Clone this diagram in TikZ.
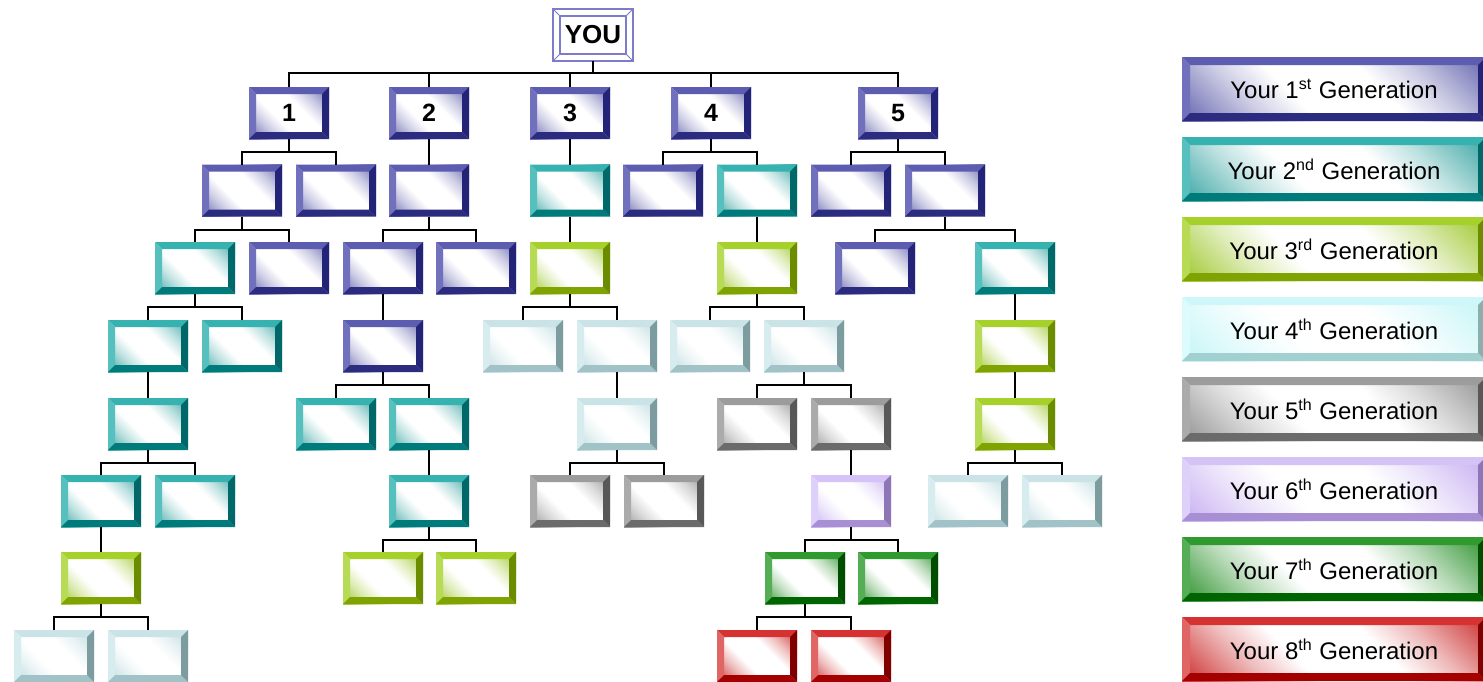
\documentclass[tikz,border=0pt]{standalone}
\usepackage{fontspec}
\setmainfont{Liberation Sans}
\definecolor{gAT}{HTML}{5C5CB0}\definecolor{gAL}{HTML}{7070BC}\definecolor{gAB}{HTML}{2B2B7F}\definecolor{gAR}{HTML}{232378}\definecolor{gAF}{HTML}{5858A8}
\definecolor{gBT}{HTML}{36B2B0}\definecolor{gBL}{HTML}{55C0BE}\definecolor{gBB}{HTML}{007B7B}\definecolor{gBR}{HTML}{006868}\definecolor{gBF}{HTML}{2A9E9C}
\definecolor{gCT}{HTML}{A6D12B}\definecolor{gCL}{HTML}{B8DB55}\definecolor{gCB}{HTML}{7FA300}\definecolor{gCR}{HTML}{6C8C00}\definecolor{gCF}{HTML}{96C21A}
\definecolor{gDT}{HTML}{CDF7F9}\definecolor{gDL}{HTML}{DCFBFC}\definecolor{gDB}{HTML}{A2CFCF}\definecolor{gDR}{HTML}{8EADAD}\definecolor{gDF}{HTML}{BFF4F6}
\definecolor{gdT}{HTML}{C9E3E7}\definecolor{gdL}{HTML}{D6ECEF}\definecolor{gdB}{HTML}{A1C3C7}\definecolor{gdR}{HTML}{7C9CA0}\definecolor{gdF}{HTML}{B5D6DB}
\definecolor{gET}{HTML}{9C9C9C}\definecolor{gEL}{HTML}{ABABAB}\definecolor{gEB}{HTML}{6B6B6B}\definecolor{gER}{HTML}{585858}\definecolor{gEF}{HTML}{8A8A8A}
\definecolor{gFT}{HTML}{D5C3F7}\definecolor{gFL}{HTML}{DDD0F9}\definecolor{gFB}{HTML}{A88ED2}\definecolor{gFR}{HTML}{8C76B6}\definecolor{gFF}{HTML}{C2A8F0}
\definecolor{gGT}{HTML}{2F9B2F}\definecolor{gGL}{HTML}{55AE55}\definecolor{gGB}{HTML}{006400}\definecolor{gGR}{HTML}{004D00}\definecolor{gGF}{HTML}{1E8A1E}
\definecolor{gHT}{HTML}{D73232}\definecolor{gHL}{HTML}{E06565}\definecolor{gHB}{HTML}{A50000}\definecolor{gHR}{HTML}{800000}\definecolor{gHF}{HTML}{C81E1E}
\definecolor{youc}{HTML}{7C7CC8}
\colorlet{bevF}{gAF}
\pgfdeclareverticalshading[bevF]{bevsh}{100bp}{color(0bp)=(bevF); color(18bp)=(bevF!80); color(31bp)=(bevF!30); color(41bp)=(white); color(59bp)=(white); color(69bp)=(bevF!30); color(82bp)=(bevF!80); color(100bp)=(bevF)}
\tikzset{
  bw/.store in=\bw, bw=7,
  gen/.style={/utils/exec={\def\gc{#1}\colorlet{bevF}{#1F}},
    shade, shading=bevsh, shading angle=-45,
    path picture={
      \fill[\gc T] (path picture bounding box.north west) -- (path picture bounding box.north east)
        -- ([shift={(-\bw,\bw)}]path picture bounding box.north east) -- ([shift={(\bw,\bw)}]path picture bounding box.north west) -- cycle;
      \fill[\gc L] (path picture bounding box.north west) -- ([shift={(\bw,\bw)}]path picture bounding box.north west)
        -- ([shift={(\bw,-\bw)}]path picture bounding box.south west) -- (path picture bounding box.south west) -- cycle;
      \fill[\gc B] (path picture bounding box.south west) -- (path picture bounding box.south east)
        -- ([shift={(-\bw,-\bw)}]path picture bounding box.south east) -- ([shift={(\bw,-\bw)}]path picture bounding box.south west) -- cycle;
      \fill[\gc R] (path picture bounding box.north east) -- (path picture bounding box.south east)
        -- ([shift={(-\bw,-\bw)}]path picture bounding box.south east) -- ([shift={(-\bw,\bw)}]path picture bounding box.north east) -- cycle;
    }},
  tbox/.style={minimum width=40pt, minimum height=26pt, inner sep=0pt, outer sep=0pt,
    font=\bfseries\fontsize{12.5}{14}\selectfont},
  lbox/.style={minimum width=152pt, minimum height=32pt, bw=8, inner sep=0pt, outer sep=0pt,
    font=\fontsize{12}{14}\selectfont},
  youbox/.style={minimum width=40pt, minimum height=26pt, inner sep=0pt, outer sep=0pt,
    fill=white, draw=youc, line width=0.6pt, font=\bfseries\fontsize{13}{14}\selectfont,
    path picture={
      \draw[youc, line width=0.6pt] ([shift={(7,7)}]path picture bounding box.north west) rectangle ([shift={(-7,-7)}]path picture bounding box.south east);
      \draw[youc, line width=0.5pt] (path picture bounding box.north west) -- ++(7,7)
        (path picture bounding box.north east) -- ++(-7,7)
        (path picture bounding box.south west) -- ++(7,-7)
        (path picture bounding box.south east) -- ++(-7,-7);
    }},
  link/.style={line width=1pt, black},
}
\begin{document}
\begin{tikzpicture}[x=0.5pt,y=-0.5pt]
\useasboundingbox (0,0) rectangle (1483,681);
\clip (0,0) rectangle (1483,681);
% YOU
\node[youbox] (you) at (593,35) {YOU};
% row 1
\node[tbox,gen=gA] (a1) at (289,113) {1};
\node[tbox,gen=gA] (a2) at (429,113) {2};
\node[tbox,gen=gA] (a3) at (570,113) {3};
\node[tbox,gen=gA] (a4) at (711,113) {4};
\node[tbox,gen=gA] (a5) at (898,113) {5};
% row 2
\node[tbox,gen=gA] (b1) at (242,190.5) {};
\node[tbox,gen=gA] (b2) at (336,190.5) {};
\node[tbox,gen=gA] (b3) at (429,190.5) {};
\node[tbox,gen=gB] (b4) at (570,190.5) {};
\node[tbox,gen=gA] (b5) at (663,190.5) {};
\node[tbox,gen=gB] (b6) at (757,190.5) {};
\node[tbox,gen=gA] (b7) at (851,190.5) {};
\node[tbox,gen=gA] (b8) at (945,190.5) {};
% row 3
\node[tbox,gen=gB] (c1) at (195,268) {};
\node[tbox,gen=gA] (c2) at (289,268) {};
\node[tbox,gen=gA] (c3) at (383,268) {};
\node[tbox,gen=gA] (c4) at (476,268) {};
\node[tbox,gen=gC] (c5) at (570,268) {};
\node[tbox,gen=gC] (c6) at (757,268) {};
\node[tbox,gen=gA] (c7) at (875,268) {};
\node[tbox,gen=gB] (c8) at (1015,268) {};
% row 4
\node[tbox,gen=gB] (d1) at (148,346) {};
\node[tbox,gen=gB] (d2) at (242,346) {};
\node[tbox,gen=gA] (d3) at (383,346) {};
\node[tbox,gen=gd] (d4) at (523,346) {};
\node[tbox,gen=gd] (d5) at (617,346) {};
\node[tbox,gen=gd] (d6) at (710,346) {};
\node[tbox,gen=gd] (d7) at (804,346) {};
\node[tbox,gen=gC] (d8) at (1015,346) {};
% row 5
\node[tbox,gen=gB] (e1) at (148,424) {};
\node[tbox,gen=gB] (e2) at (336,424) {};
\node[tbox,gen=gB] (e3) at (429,424) {};
\node[tbox,gen=gd] (e4) at (617,424) {};
\node[tbox,gen=gE] (e5) at (757,424) {};
\node[tbox,gen=gE] (e6) at (851,424) {};
\node[tbox,gen=gC] (e7) at (1015,424) {};
% row 6
\node[tbox,gen=gB] (f1) at (101,501) {};
\node[tbox,gen=gB] (f2) at (195,501) {};
\node[tbox,gen=gB] (f3) at (429,501) {};
\node[tbox,gen=gE] (f4) at (570,501) {};
\node[tbox,gen=gE] (f5) at (664,501) {};
\node[tbox,gen=gF] (f6) at (851,501) {};
\node[tbox,gen=gd] (f7) at (968,501) {};
\node[tbox,gen=gd] (f8) at (1062,501) {};
% row 7
\node[tbox,gen=gC] (g1) at (101,578) {};
\node[tbox,gen=gC] (g2) at (383,578) {};
\node[tbox,gen=gC] (g3) at (476,578) {};
\node[tbox,gen=gG] (g4) at (805,578) {};
\node[tbox,gen=gG] (g5) at (898,578) {};
% row 8
\node[tbox,gen=gd] (h1) at (54,656) {};
\node[tbox,gen=gd] (h2) at (148,656) {};
\node[tbox,gen=gH] (h3) at (757,656) {};
\node[tbox,gen=gH] (h4) at (851,656) {};
% connectors
\foreach \p/\c in {you/a1,you/a2,you/a3,you/a4,you/a5}
  \draw[link] (\p.south) -- ++(0,12) -| (\c.north);
\foreach \p/\c in {a1/b1,a1/b2,a2/b3,a3/b4,a4/b5,a4/b6,a5/b7,a5/b8,
  b1/c1,b1/c2,b3/c3,b3/c4,b4/c5,b6/c6,b8/c7,b8/c8,
  c1/d1,c1/d2,c3/d3,c5/d4,c5/d5,c6/d6,c6/d7,c8/d8,
  d1/e1,d3/e2,d3/e3,d5/e4,d7/e5,d7/e6,d8/e7,
  e1/f1,e1/f2,e3/f3,e4/f4,e4/f5,e6/f6,e7/f7,e7/f8,
  f1/g1,f3/g2,f3/g3,f6/g4,f6/g5,
  g1/h1,g1/h2,g4/h3,g4/h4}
  \draw[link] (\p.south) -- ++(0,13) -| (\c.north);
% legend
\node[lbox,gen=gA] (l1) at (1334,89) {Your 1\textsuperscript{st} Generation};
\node[lbox,gen=gB] (l2) at (1334,169) {Your 2\textsuperscript{nd} Generation};
\node[lbox,gen=gC] (l3) at (1334,249) {Your 3\textsuperscript{rd} Generation};
\node[lbox,gen=gD] (l4) at (1334,329) {Your 4\textsuperscript{th} Generation};
\node[lbox,gen=gE] (l5) at (1334,409) {Your 5\textsuperscript{th} Generation};
\node[lbox,gen=gF] (l6) at (1334,489) {Your 6\textsuperscript{th} Generation};
\node[lbox,gen=gG] (l7) at (1334,569) {Your 7\textsuperscript{th} Generation};
\node[lbox,gen=gH] (l8) at (1334,649) {Your 8\textsuperscript{th} Generation};
\end{tikzpicture}
\end{document}
